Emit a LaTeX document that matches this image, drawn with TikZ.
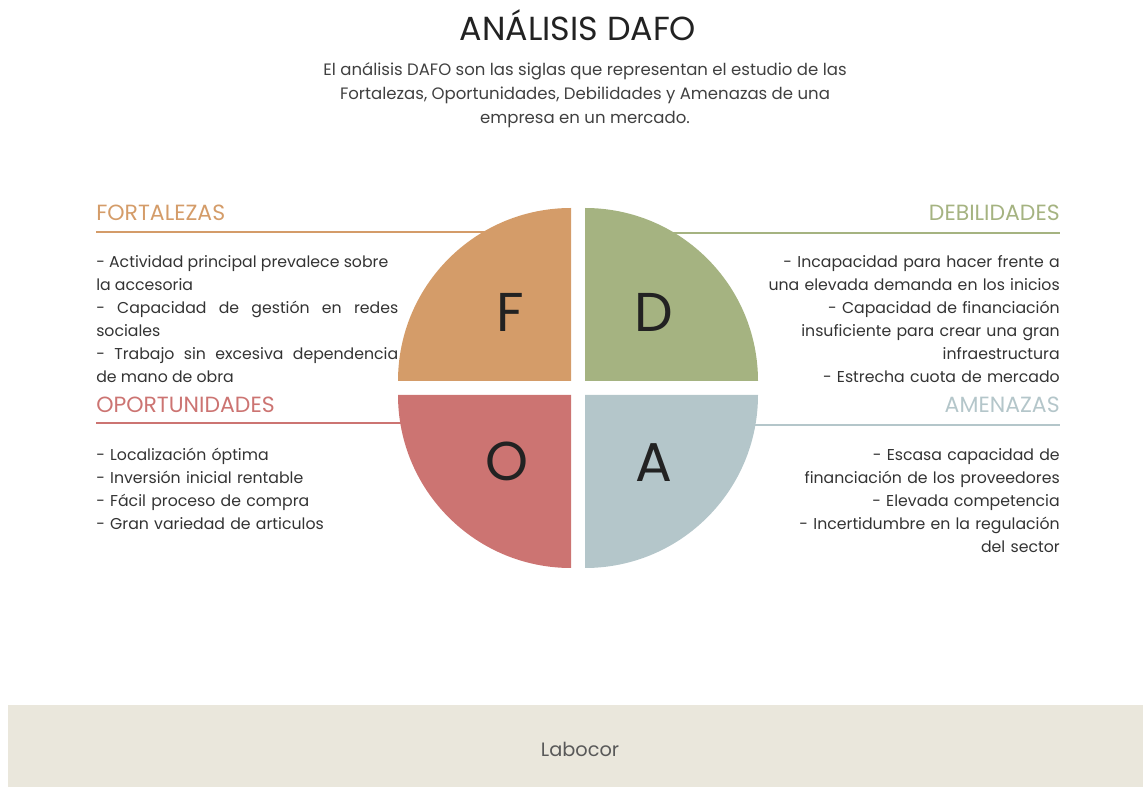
\documentclass[tikz,border=0pt]{standalone}
\usepackage{fontspec}
\setmainfont{Poppins}
\usetikzlibrary{positioning}
\definecolor{fcol}{HTML}{D49C69}
\definecolor{dcol}{HTML}{A5B381}
\definecolor{ocol}{HTML}{CC7472}
\definecolor{acol}{HTML}{B4C6CA}
\definecolor{footcol}{HTML}{EAE7DC}
\definecolor{txtcol}{HTML}{333333}
\definecolor{letcol}{HTML}{222222}

\begin{document}
\begin{tikzpicture}
    [x=0.75pt,y=-0.75pt,
     txt/.style={inner sep=0pt,text=txtcol,font=\fontsize{11.8}{17.25}\selectfont},
     head/.style={inner sep=0pt,font=\fontsize{16.5}{18}\selectfont},
     letter/.style={inner sep=0pt,anchor=base,text=letcol,font=\fontsize{41}{41}\selectfont},
     rule/.style={line width=1.5pt}]
\useasboundingbox (0,0) rectangle (1143,787);
%footer band
\fill[footcol] (8,705) rectangle (1143,787);
\node[text=black!65,font=\fontsize{14.5}{16}\selectfont] (foot) at (580,749) {Labocor};
%title and intro
\node[text=letcol,font=\fontsize{25}{27}\selectfont] (title) at (578,25) {ANÁLISIS DAFO};
\node[txt,text=black!75,align=center,anchor=north,font=\fontsize{12.4}{18}\selectfont] (intro) at (585,62)
     {El análisis DAFO son las siglas que representan el estudio de las\\
      Fortalezas, Oportunidades, Debilidades y Amenazas de una\\
      empresa en un mercado.};
%headings and their rules
\node[head,text=fcol,anchor=base west] (fhead) at (96,221) {FORTALEZAS};
\node[head,text=dcol,anchor=base east] (dhead) at (1060,221) {DEBILIDADES};
\node[head,text=ocol,anchor=base west] (ohead) at (96,413) {OPORTUNIDADES};
\node[head,text=acol,anchor=base east] (ahead) at (1060,413) {AMENAZAS};
 \draw[rule,fcol] (96,232) -- (500,232);
 \draw[rule,dcol] (660,233) -- (1060,233);
 \draw[rule,ocol] (96,423) -- (420,423);
 \draw[rule,acol] (740,425) -- (1060,425);
%the four quarters
\fill[fcol] (571,381) -- (398,381) arc[start angle=180,end angle=270,radius=173] -- cycle;
\fill[dcol] (585,381) -- (758,381) arc[start angle=0,end angle=-90,radius=173] -- cycle;
\fill[ocol] (571,395) -- (398,395) arc[start angle=180,end angle=90,radius=173] -- cycle;
\fill[acol] (585,395) -- (758,395) arc[start angle=0,end angle=90,radius=173] -- cycle;
\node[letter] (f) at (510,332) {F};
\node[letter] (d) at (654,332) {D};
\node[letter] (o) at (507,481) {O};
\node[letter] (a) at (654,482) {A};
%lists
\node[txt,text width=302*0.75pt,align=justify,anchor=north west] (flist) at (96,255)
     {- Actividad principal prevalece sobre\\
      la accesoria\\
      - Capacidad de gestión en redes\linebreak
      sociales\\
      - Trabajo sin excesiva dependencia\linebreak
      de mano de obra};
\node[txt,text width=300*0.75pt,align=right,anchor=north east] (dlist) at (1060,255)
     {- Incapacidad para hacer frente a\\
      una elevada demanda en los inicios\\
      - Capacidad de financiación\\
      insuficiente para crear una gran\\
      infraestructura\\
      - Estrecha cuota de mercado};
\node[txt,text width=300*0.75pt,align=left,anchor=north west] (olist) at (96,448)
     {- Localización óptima\\
      - Inversión inicial rentable\\
      - Fácil proceso de compra\\
      - Gran variedad de articulos};
\node[txt,text width=300*0.75pt,align=right,anchor=north east] (alist) at (1060,448)
     {- Escasa capacidad de\\
      financiación de los proveedores\\
      - Elevada competencia\\
      - Incertidumbre en la regulación\\
      del sector};
\end{tikzpicture}
\end{document}
